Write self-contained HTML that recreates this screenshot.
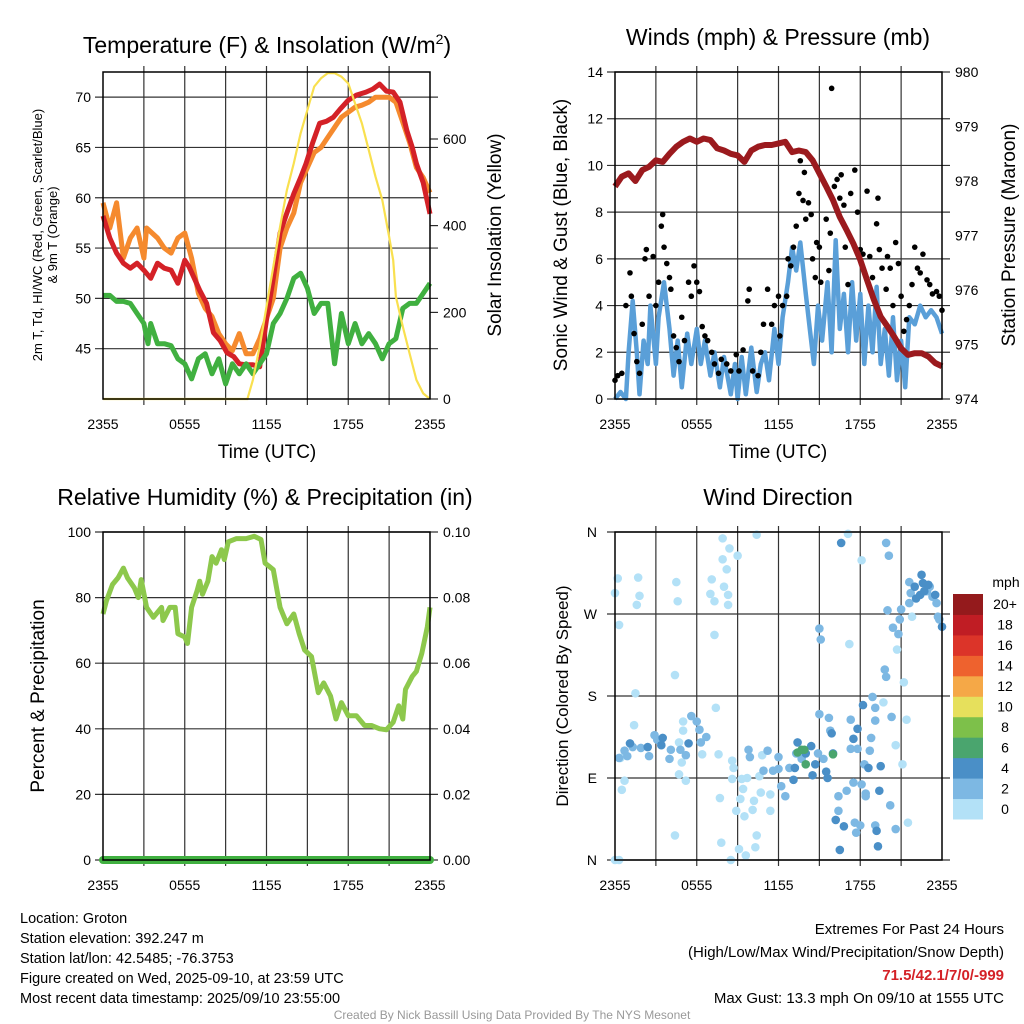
<!DOCTYPE html>
<html><head><meta charset="utf-8"><style>
html,body{margin:0;padding:0;background:#fff}
svg{display:block}
text{font-family:"Liberation Sans",Arial,sans-serif;fill:#000}
</style></head><body>
<svg id="c" width="1024" height="1024" viewBox="0 0 1024 1024" xmlns="http://www.w3.org/2000/svg"></svg>
<script>
// ---------- DATA ----------
const tempT = [0,0.5,1,1.5,2,2.5,3,3.5,4,4.5,5,5.5,6,6.3,6.7,7.1,7.6,8.1,8.6,9.1,9.6,10,10.5,11,11.5,12,12.5,13,13.5,14,14.5,14.9,15.4,15.9,16.4,16.9,17.4,18,18.6,19.3,19.8,20.3,20.8,21.3,21.8,22.3,22.7,23,23.5,24];
const tempRed = [58.2,56,54.5,53.5,53,53.5,52.8,52,53.5,53,52.8,51.5,53.8,53.2,52,50.8,49.5,46.6,45.8,44.6,44.2,43.5,43.4,43.4,43.2,47.9,52,56.5,58.5,60.4,62,63.4,65.5,67.4,67.6,68,68.8,69.7,70.2,70.5,70.8,71.3,70.6,70.5,69.5,66.7,65,63.4,61.5,58.4];
const orangeT = [0,0.5,1,1.5,2,2.5,3,3.2,4,4.5,5,5.5,6,6.5,7,7.5,8,8.5,9,9.5,10,10.5,11,11.5,12,12.5,13,13.5,14,14.5,15,15.5,16,16.5,17,17.5,18,18.5,19,19.5,20,20.5,21,21.5,22,22.5,23,23.5,24];
const tempOrange = [59.5,57,59.5,54,56,57,54,57,56,55,54.5,56,56.5,54,50.5,49,48.2,46.5,45.5,44.8,46.5,44.5,44.5,46,48,50,55,57,58.5,61.5,63,64.5,65,66,67,68,68.5,69,69.2,69.5,70,70,70,69.5,67.5,65.5,63,62,60.5];
const greenT = [0,0.5,1,1.5,2,2.5,3,3.3,3.5,4,4.5,5,5.5,6,6.5,7,7.5,8,8.5,9,9.5,10,10.5,11,11.5,12,12.5,13,13.5,14,14.5,15,15.5,16,16.5,17,17.5,18,18.5,19,19.5,20,20.5,21,21.5,22,22.5,23,23.5,24];
const tempGreen = [50.3,50.3,49.7,49.7,49.5,48.5,47.5,45.5,47.5,45.5,45.5,45.3,44,43.5,42,44,44.5,42.5,44,41.5,43.5,42.5,43.5,42.5,43.5,44.5,47.5,48.5,50,52,52.5,51,48.5,49.5,49.5,43.5,48.5,45.5,47.5,45.5,46.5,45.5,44,45.5,46,49,49.5,49.5,50.5,51.5];
const solarT = [0,10.6,11,11.5,12,12.5,13,13.5,14,14.5,15,15.5,16,16.5,17,17.5,18,18.5,19,19.5,20,20.5,21,21.3,21.5,22,22.5,23,23.5,24];
const solar = [0,0,44,121,213,305,398,482,544,613,667,721,740,752,752,744,728,682,636,575,513,459,375,320,236,167,105,44,13,0];
const presT = [0,0.5,1,1.5,2,2.5,3,3.5,4,4.5,5,5.5,6,6.5,7,7.5,8,8.5,9,9.5,10,10.5,11,11.5,12,12.5,13,13.5,14,14.5,15,15.5,16,16.5,17,17.5,18,18.5,19,19.5,20,20.5,21,21.5,22,22.5,23,23.5,24];
const pressure = [977.9,978.08,978.14,978.0,978.2,978.26,978.38,978.35,978.5,978.63,978.72,978.78,978.72,978.78,978.75,978.6,978.56,978.5,978.47,978.35,978.56,978.63,978.66,978.66,978.69,978.72,978.53,978.56,978.53,978.38,978.14,977.9,977.65,977.34,977.1,976.85,976.55,976.18,975.82,975.51,975.33,975.14,974.93,974.81,974.84,974.84,974.78,974.66,974.6];
const windT = [0,0.4,0.8,1.0,1.3,1.6,1.8,2.1,2.4,2.6,3.0,3.2,3.6,4.0,4.3,4.6,4.9,5.3,5.6,6.0,6.3,6.6,7.0,7.3,7.7,8.0,8.5,8.8,9.0,9.3,9.6,10.0,10.4,10.7,11.0,11.3,11.7,12.0,12.3,12.7,13.0,13.3,13.6,14.0,14.3,14.6,14.9,15.2,15.6,15.9,16.2,16.5,16.8,17.1,17.4,17.7,18.0,18.3,18.6,18.9,19.2,19.5,19.8,20.1,20.4,20.7,21.0,21.3,21.6,22.0,22.4,22.8,23.2,23.6,24];
const windSpeed = [0,0.3,0,2,4.2,2,0.2,2.5,1.5,4.0,1.5,3.5,5.0,3.0,1.0,2.5,0.5,2.8,1.5,3.0,1.5,2.5,1.0,2.0,0.5,1.8,0.2,1.5,0,1.8,0.2,2.2,0.3,1.5,2.0,0.8,3.0,1.5,3.5,5.0,6.5,5.5,6.7,4.5,3.0,1.5,4.0,2.5,5.0,2.0,6.8,3.0,4.5,2.0,5.0,2.5,4.5,1.5,4.0,2.0,4.8,1.5,3.0,1.0,3.5,0.8,2.5,0.5,3.5,3.2,4.0,3.5,3.8,3.5,2.8];
const gustT = [0,0.2,0.5,0.8,1.1,1.2,1.4,1.6,1.8,2.0,2.2,2.3,2.5,2.8,3.0,3.2,3.4,3.5,3.6,3.8,4.0,4.1,4.3,4.5,4.7,4.9,5.1,5.4,5.6,5.8,6.0,6.2,6.4,6.6,6.8,7.1,7.3,7.6,7.8,8.2,8.5,8.9,9.1,9.4,9.75,9.85,10.1,10.5,10.7,10.9,11.2,11.5,11.7,12.0,12.1,12.3,12.6,12.7,12.9,13.1,13.3,13.5,13.6,13.8,13.9,14.0,14.2,14.4,14.5,14.7,14.8,15.0,15.1,15.4,15.5,15.7,15.8,15.9,16.1,16.3,16.5,16.6,16.8,16.9,17.1,17.3,17.6,17.8,18.0,18.2,18.5,18.7,18.9,19.2,19.3,19.4,19.6,19.9,20.0,20.2,20.4,20.6,20.8,21.0,21.2,21.4,21.6,21.8,22.0,22.2,22.4,22.6,22.9,23.1,23.3,23.6,23.8,24.0];
const gust = [0.8,1.0,1.1,4.0,5.4,4.4,2.8,1.6,1.1,3.2,6.0,6.4,4.4,6.1,4.0,5.0,7.4,7.9,6.5,5.8,5.2,4.7,2.7,2.2,1.6,3.5,2.5,5.0,4.4,5.7,5.0,4.6,3.1,2.7,2.5,2.0,1.5,1.1,1.7,1.5,1.2,1.9,1.2,2.1,4.2,4.7,1.2,1.0,2.0,3.2,4.7,3.2,4.0,4.4,2.7,4.0,4.4,6.0,5.7,6.5,7.4,8.8,10.2,8.5,9.7,7.7,8.4,7.9,6.0,5.2,6.7,6.5,5.0,9.2,7.7,5.5,7.1,13.3,9.1,9.4,8.6,9.6,8.3,6.5,4.9,8.8,9.8,8.0,6.4,6.2,8.9,6.1,5.2,7.5,8.6,6.4,5.6,4.7,6.1,5.6,4.0,6.7,5.8,4.4,2.9,3.4,4.0,4.9,6.5,5.6,5.4,6.2,5.1,4.9,4.5,4.6,4.4,3.8];
const rhT = [0,0.25,0.7,1.1,1.5,1.8,2.3,2.6,2.8,3.2,3.7,4.3,4.4,4.9,5.3,5.5,6.0,6.2,6.5,6.9,7.1,7.3,7.7,8.0,8.3,8.7,8.9,9.2,9.8,10.5,11.1,11.6,11.9,12.2,12.5,13,13.5,14,14.4,14.8,15.3,15.8,16.2,16.7,17.1,17.5,18,18.6,19.2,19.7,20.3,20.8,21.3,21.7,22,22.2,22.7,23,23.4,23.8,24];
const rh = [75,79,84,86,89,86,83,80,85.5,77,74,77,73,77,77,69,68,66,77,82,85,81,85,92.5,90.5,94.6,91.6,97,98,98,98.7,97.7,90.5,89.5,88.5,77,72,75,69,64,62,51,54,50,43,48,44,44,41,41,40,39.7,42,47,43,52,56,57.5,63,71,77];
const precipT = [0,24];
const precip = [0,0];
const dirT = [0,0.3,0,0.2,0.3,1.7,1.8,1.6,4.5,4.6,4.4,1.5,1.4,0.4,0.7,0.5,4.4,4.7,5.2,4.9,4.7,5,5,7.9,8.4,9,7.9,8.2,7.1,8,8.3,7,7.3,8.3,7.3,7.4,6.4,7.6,8.6,8.7,8.6,9.3,9.7,9.4,9.2,8.9,9.5,7.7,7.8,8.5,9.1,9.6,10.3,10.4,10.1,10.2,10.7,11.4,11.4,10.8,10.6,10.4,17.2,20.7,21.2,21.4,21.5,21.1,20.6,19.7,21.8,18.1,17.1,
0.3,0.9,0.7,1.3,1.9,2.5,2.9,3.1,4,4.1,4.8,5.2,5.6,6,6.2,6.7,6.3,9.8,9.9,11.2,10.9,11.6,12,12,12.2,12.5,12.8,13.3,13.7,14.9,15,15.3,15.7,15.8,16.4,16.4,17.3,17.3,17.8,18.1,18.3,18.4,18.7,18.8,19.1,19.1,18.9,19.9,20.1,20,20.4,20.8,20.9,21,19.8,19.9,20.3,20.2,20.6,19.1,17.5,17.6,17.7,18,18.4,17,15,15.1,21.6,21.7,21.6,22.9,23.1,23.3,23.6,23.7,23.8,
1.1,2.4,3.5,3.4,5.4,13.1,13.2,13.4,14,14.4,14.7,14.5,15.5,15.6,16,15.9,16.6,16.2,16.8,16.5,17.5,17.8,18.2,18.6,19.4,19.5,19.2,19.3,22.5,22,22.4,22.6,23,23.5,24,22.1,22.7,
13.7,13.4,13.9,14,16];
const dirDeg = [0,0,293,309,258,310,290,280,305,284,203,183,148,112,87,77,27,94,87,107,129,142,152,353,342,334,330,319,308,300,291,292,284,280,247,167,116,116,109,101,89,89,90,78,67,54,48,68,19,0,12,5,14,27,55,65,74,72,54,115,92,357,237,231,195,154,41,105,126,173,267,329,358,
112,114,120,124,123,114,137,132,111,121,121,115,158,152,143,135,129,121,113,120,98,98,113,100,81,70,101,117,111,117,160,111,156,142,54,70,154,122,122,83,105,73,120,134,153,167,179,348,334,274,255,248,264,275,209,201,157,60,34,38,85,41,30,38,70,76,254,242,282,293,305,295,300,289,282,267,264,
128,124,134,126,128,88,101,129,117,125,105,93,97,90,117,139,348,44,37,11,133,144,170,101,76,103,32,15,313,300,291,304,302,291,256,287,295,
121,118,121,105,116];
const dirSpeed = [1,1,1,1,1,1,1,1,1,1,1,1,1,1,1,1,1,1,1,1,1,1,1,1,1,1,1,1,1,1,1,1,1,1,1,1,1,1,1,1,1,1,1,1,1,1,1,1,1,1,1,1,1,1,1,1,1,1,1,1,1,1,1,1,1,1,1,1,1,1,1,1,1,
3,3,3,3,3,3,3,3,3,3,3,3,3,3,3,3,3,3,3,3,3,3,3,3,3,3,3,3,3,3,3,3,3,3,3,3,3,3,3,3,3,3,3,3,3,3,3,3,3,3,3,3,3,3,3,3,3,3,3,3,3,3,3,3,3,3,3,3,3,3,3,3,3,3,3,3,3,
5,5,5,5,5,5,5,5,5,5,5,5,5,5,5,5,5,5,5,5,5,5,5,5,5,5,5,5,5,5,5,5,5,5,5,5,5,
7,7,7,7,7];
const timeTicks = ["2355","0555","1155","1755","2355"];
const tempTicks = [45,50,55,60,65,70];
const solarTicks = [0,200,400,600];
const windTicks = [0,2,4,6,8,10,12,14];
const presTicks = [974,975,976,977,978,979,980];
const rhTicks = [0,20,40,60,80,100];
const precipTicks = ["0.00","0.02","0.04","0.06","0.08","0.10"];
const dirLabels = ["N","E","S","W","N"];
const cbLabels = ["0","2","4","6","8","10","12","14","16","18","20+"];
const cbColors = ["#b3e1f7","#7db8e3","#4a8fc7","#4aa56e","#7dc04a","#e6e05c","#f5a847","#ee622e","#dc3429","#c01d24","#941a1c"];

// ---------- RENDER ----------
const NS="http://www.w3.org/2000/svg";
const svg=document.getElementById('c');
function el(tag,attrs,parent,txt){const e=document.createElementNS(NS,tag);for(const k in attrs)e.setAttribute(k,attrs[k]);if(txt!==undefined)e.textContent=txt;(parent||svg).appendChild(e);return e;}
function lin(d0,d1,r0,r1){return v=>r0+(v-d0)*(r1-r0)/(d1-d0);}
function pathD(xs,ys,fx,fy){return xs.map((t,i)=>(i?'L':'M')+fx(t).toFixed(1)+','+fy(ys[i]).toFixed(1)).join('');}

function frame(g,b,name){
  const f=el('rect',{x:b.x0,y:b.y0,width:b.x1-b.x0,height:b.y1-b.y0,fill:'none',stroke:'#000','stroke-width':1.5},g);
  
  
}
function vgrid(g,b,fx){
  for(let h=3;h<24;h+=3){const x=fx(h);const l=el('line',{x1:x,x2:x,y1:b.y0-6,y2:b.y1+6,stroke:'#333','stroke-width':1.2},g);
    
    }
  timeTicks.forEach((s,i)=>{const x=fx(i*6);const t=el('text',{x:x,y:b.y1+30,'font-size':14,'text-anchor':'middle'},g,s);
    
    });
}
function hgrid(g,b,y,label,side,name){
  const l=el('line',{x1:b.x0-(side==='l'?8:0),x2:b.x1+8,y1:y,y2:y,stroke:'#333','stroke-width':1.2},g);
  
  
}
function ltext(g,x,y,s,anchor,size,name){const t=el('text',{x:x,y:y,'font-size':size||14,'text-anchor':anchor||'end','dominant-baseline':'central'},g,s);
  
  return t;}
function rotText(g,x,y,s,size,name){const t=el('text',{x:x,y:y,'font-size':size,'text-anchor':'middle',transform:`rotate(-90 ${x} ${y})`},g,s);
  
  return t;}
function title(x,y,s,name){const t=el('text',{x:x,y:y,'font-size':23,'text-anchor':'middle'},svg,s);
  
  return t;}

// Panel 1: temperature
(function(){
  const b={x0:103,x1:430,y0:72,y1:399};
  const g=el('g',{});
  
  
  const fx=lin(0,24,b.x0,b.x1), fy=lin(40,72.5,b.y1,b.y0), fs=lin(0,600,399,139);
  vgrid(g,b,fx);
  tempTicks.forEach(v=>{hgrid(g,b,fy(v),v,'l','temp');ltext(g,b.x0-12,fy(v),v,'end',14,'temp-tick-label');});
  solarTicks.forEach(v=>{const l=el('line',{x1:b.x1,x2:b.x1+8,y1:fs(v),y2:fs(v),stroke:'#000'},g);
    
    
    ltext(g,b.x1+13,fs(v),v,'start',14,'solar-tick-label');});
  const series=[[orangeT,tempOrange,'#f58a2e','orange-9m-temp'],[tempT,tempRed,'#d42127','red-2m-temp'],[greenT,tempGreen,'#40b040','green-dewpoint']];
  series.forEach(s=>{const p=el('path',{d:pathD(s[0],s[1],fx,fy),fill:'none',stroke:s[2],'stroke-width':5,'stroke-linejoin':'round'},g);
    
    });
  const sp=el('path',{d:pathD(solarT,solar,fx,fs),fill:'none',stroke:'#f9e04f','stroke-width':2.2},g);
  
  
  frame(g,b,'temperature');
  const xt=el('text',{x:267,y:458,'font-size':19,'text-anchor':'middle'},g,'Time (UTC)');
  
  
  rotText(g,42,235,'2m T, Td, HI/WC (Red, Green, Scarlet/Blue)',13,'y-axis-title-left');
  rotText(g,57,235,'& 9m T (Orange)',13,'y-axis-title-left-line2');
  rotText(g,501,235,'Solar Insolation (Yellow)',19,'y-axis-title-right');
})();
const t1=title(267,53,'','temperature-title');
t1.innerHTML='Temperature (F) &amp; Insolation (W/m<tspan font-size="14" dy="-9">2</tspan><tspan dy="9">)</tspan>';

// Panel 2: winds
(function(){
  const b={x0:615,x1:942,y0:72,y1:399};
  const g=el('g',{});
  
  
  const fx=lin(0,24,b.x0,b.x1), fy=lin(0,14,b.y1,b.y0), fp=lin(974,980,b.y1,b.y0);
  vgrid(g,b,fx);
  windTicks.forEach(v=>{hgrid(g,b,fy(v),v,'l','wind');ltext(g,b.x0-12,fy(v),v,'end',14,'wind-tick-label');});
  presTicks.forEach(v=>{ltext(g,b.x1+13,fp(v),v,'start',14,'pressure-tick-label');});
  const wp=el('path',{d:pathD(windT,windSpeed,fx,fy),fill:'none',stroke:'#5a9fd8','stroke-width':4.5,'stroke-linejoin':'round'},g);
  
  
  gustT.forEach((t,i)=>{const c=el('circle',{cx:fx(t),cy:fy(gust[i]),r:2.8,fill:'#000'},g);
    
    });
  const pp=el('path',{d:pathD(presT,pressure,fx,fp),fill:'none',stroke:'#9b1a1e','stroke-width':6,'stroke-linejoin':'round'},g);
  
  
  frame(g,b,'winds');
  const xt=el('text',{x:778,y:458,'font-size':19,'text-anchor':'middle'},g,'Time (UTC)');
  
  
  rotText(g,567,235,'Sonic Wind & Gust (Blue, Black)',19,'y-axis-title-left');
  rotText(g,1015,235,'Station Pressure (Maroon)',19,'y-axis-title-right');
})();
title(778,45,'Winds (mph) & Pressure (mb)','winds-title');

// Panel 3: RH
(function(){
  const b={x0:103,x1:430,y0:532,y1:860};
  const g=el('g',{});
  
  
  const fx=lin(0,24,b.x0,b.x1), fy=lin(0,100,b.y1,b.y0), fpr=lin(0,0.1,b.y1,b.y0);
  vgrid(g,b,fx);
  rhTicks.forEach((v,i)=>{hgrid(g,b,fy(v),v,'l','rh');ltext(g,b.x0-12,fy(v),v,'end',14,'rh-tick-label');
    ltext(g,b.x1+13,fy(v),precipTicks[i],'start',14,'precip-tick-label');});
  const rp=el('path',{d:pathD(rhT,rh,fx,fy),fill:'none',stroke:'#8dc84c','stroke-width':5,'stroke-linejoin':'round'},g);
  
  
  const pr=el('path',{d:pathD(precipT,precip,fx,fpr),fill:'none',stroke:'#40b040','stroke-width':8,'stroke-linecap':'round'},g);
  
  
  frame(g,b,'humidity');
  rotText(g,44,696,'Percent & Precipitation',19,'y-axis-title-left');
})();
title(265,505,'Relative Humidity (%) & Precipitation (in)','humidity-title');

// Panel 4: Direction
(function(){
  const b={x0:615,x1:942,y0:532,y1:860};
  const g=el('g',{});
  
  
  const fx=lin(0,24,b.x0,b.x1), fy=lin(0,360,b.y1,b.y0);
  vgrid(g,b,fx);
  dirLabels.forEach((s,i)=>{hgrid(g,b,fy(i*90),s,'l','direction');ltext(g,b.x0-18,fy(i*90),s,'end',14,'direction-tick-label');});
  function col(v){return cbColors[Math.min(10,Math.floor(v/2))];}
  dirT.forEach((t,i)=>{const c=el('circle',{cx:fx(t),cy:fy(dirDeg[i]),r:4.3,fill:col(dirSpeed[i])},g);
    
    });
  frame(g,b,'direction');
  rotText(g,568,696,'Direction (Colored By Speed)',17,'y-axis-title-left');
  // colorbar
  const cb=el('g',{},g);
  
  
  const h=225/11;
  cbColors.forEach((c,i)=>{const y=819-(i+1)*h;const r=el('rect',{x:953,y:y,width:30,height:h+0.5,fill:c},cb);
    
    
    ltext(cb,1005,y+h/2,cbLabels[i],'middle',14,'colorbar-label');});
  ltext(cb,1006,582,'mph','middle',14,'colorbar-title');
})();
title(778,505,'Wind Direction','direction-title');

// Footer texts
const info=["Location: Groton","Station elevation: 392.247 m","Station lat/lon: 42.5485; -76.3753","Figure created on Wed, 2025-09-10, at 23:59 UTC","Most recent data timestamp: 2025/09/10 23:55:00"];
info.forEach((s,i)=>{const t=el('text',{x:20,y:923+i*20,'font-size':14.5},svg,s);
  
  });
const rt=[["Extremes For Past 24 Hours",934,'#000','normal'],["(High/Low/Max Wind/Precipitation/Snow Depth)",957,'#000','normal'],["71.5/42.1/7/0/-999",980,'#d42127','bold'],["Max Gust: 13.3 mph On 09/10 at 1555 UTC",1003,'#000','normal']];
rt.forEach(r=>{const t=el('text',{x:1004,y:r[1],'font-size':15,'text-anchor':'end','font-weight':r[3],style:'fill:'+r[2]},svg,r[0]);
  
  });
const cr=el('text',{x:512,y:1019,'font-size':12,'text-anchor':'middle',style:'fill:#999'},svg,'Created By Nick Bassill Using Data Provided By The NYS Mesonet');


</script>
</body></html>
